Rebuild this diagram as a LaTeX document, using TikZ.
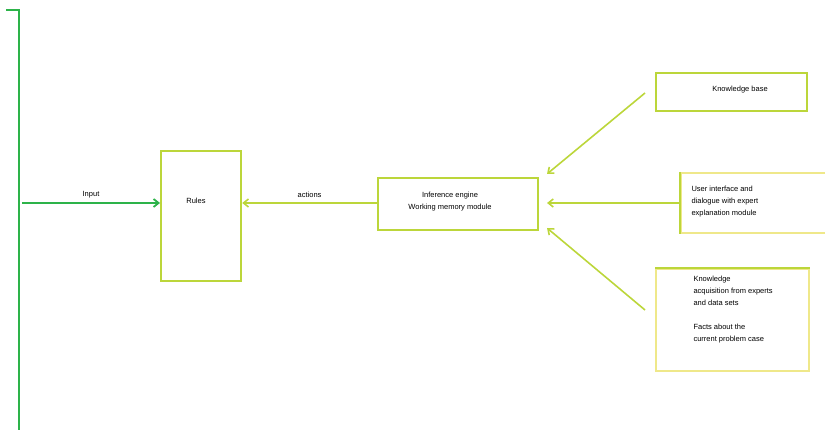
\documentclass[tikz,border=0pt]{standalone}
\usepackage{fontspec}
\setmainfont{Liberation Sans}
\usetikzlibrary{arrows.meta}
\definecolor{lime}{HTML}{BCD63A}
\definecolor{paleyel}{HTML}{EFE88A}
\definecolor{grn}{HTML}{2DB34A}
\tikzset{
  box/.style={draw=lime, line width=2.2pt, fill=white, inner sep=0pt, anchor=north west},
  lbl/.style={font=\fontsize{7.5}{12}\selectfont, text=black},
  arr/.style={draw=lime, line width=1.6pt, -{Straight Barb[length=5pt,width=8pt]}},
  garr/.style={draw=grn, line width=1.8pt, -{Straight Barb[length=5pt,width=8pt]}}
}
\begin{document}
\begin{tikzpicture}[x=1pt,y=-1pt]
\useasboundingbox (0,0) rectangle (825,430);
% vertical green bar
\coordinate (t0) at (6,10);
\coordinate (t1) at (19,10);
\coordinate (b1) at (19,430);
\draw[grn, line width=2.4pt] (t0) -- (t1) -- (b1);
% boxes
\node[box, minimum width=80, minimum height=130] (rules) at (160,150) {};
\node[lbl] at (196,201) {Rules};
\node[box, minimum width=160, minimum height=52] (eng) at (377,177) {};
\node[lbl, align=center] at (450,202) {Inference engine\\Working memory module};
\node[box, minimum width=151, minimum height=38] (kb) at (655,72) {};
\node[lbl] at (740,90) {Knowledge base};
\node[box, draw=paleyel, minimum width=145, minimum height=60] (ui) at (680,172) {};
\draw[lime, line width=2.2pt] (ui.north west) -- (ui.south west);
\node[lbl, align=left, anchor=west] at (688,202) {User interface and\\dialogue with expert\\explanation module};
\node[box, draw=paleyel, minimum width=153, minimum height=102] (fa) at (655,268) {};
\draw[lime, line width=2.2pt] (fa.north west) -- (fa.north east);
\node[lbl, align=left, anchor=north west] at (690,273) {Knowledge\\acquisition from experts\\and data sets\\[12pt]Facts about the\\current problem case};
% connectors
\coordinate (inS) at (22,203);
\draw[garr] (inS) -- (rules.west |- inS) node[midway, above, lbl, yshift=1pt] {Input};
\draw[arr] (eng.west |- 0,203) -- (rules.east |- 0,203) node[midway, above, lbl, yshift=1pt] {actions};
\draw[arr] (645,93) -- (547,174);
\draw[arr] (ui.west |- 0,203) -- (547,203);
\draw[arr] (645,310) -- (547,228);
\end{tikzpicture}
\end{document}
